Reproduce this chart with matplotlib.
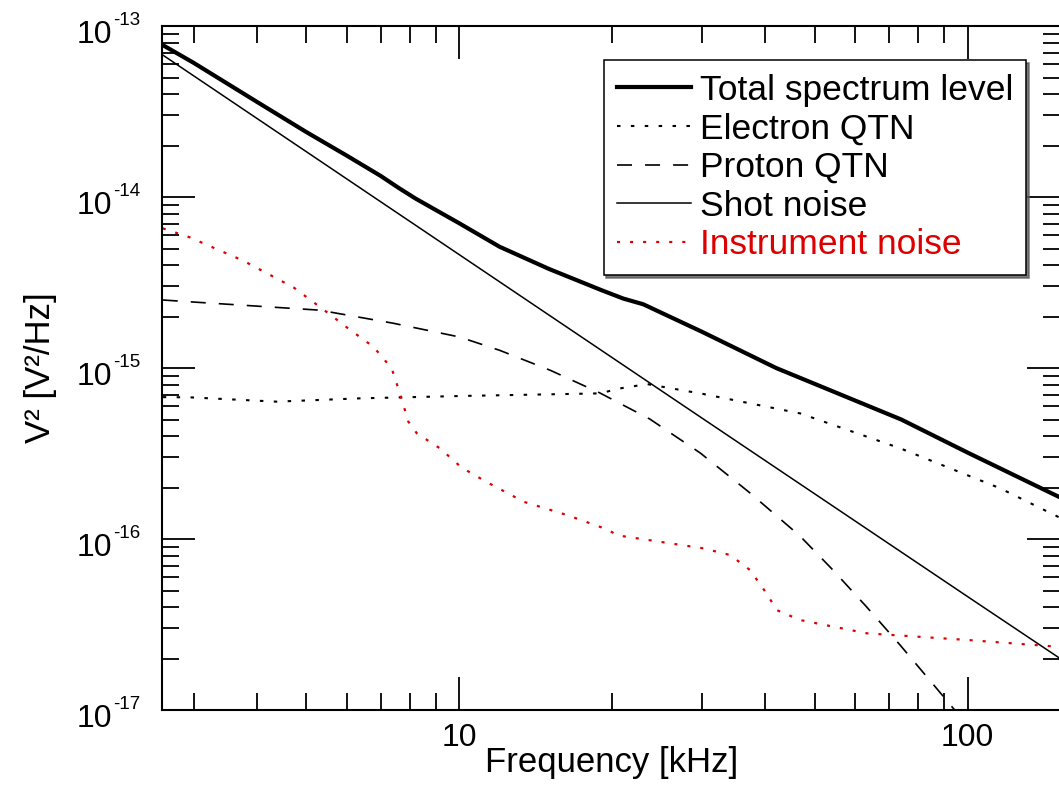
import matplotlib

matplotlib.use("Agg")
import matplotlib.pyplot as plt
from matplotlib.ticker import FixedLocator, FixedFormatter, LogLocator, NullFormatter

# values (frequency in kHz, spectrum in V^2/Hz)
total_f = [2.61, 3, 4, 5, 6, 7, 7.6, 8.2, 10, 12, 15, 19, 21, 23, 30, 42, 74, 100, 152]
total_v = [7.74e-14, 6.1e-14, 3.6e-14, 2.4e-14, 1.75e-14, 1.33e-14, 1.13e-14, 9.8e-15, 7.02e-15,
           5.12e-15, 3.8e-15, 2.86e-15, 2.55e-15, 2.36e-15, 1.63e-15, 1.0e-15,
           5.0e-16, 3.2e-16, 1.75e-16]

electron_f = [2.61, 2.95, 4.37, 6.38, 10, 18.9, 20.7, 23.4, 30.2, 46.8, 73.7, 115.8, 152]
electron_v = [6.76e-16, 6.74e-16, 6.36e-16, 6.65e-16, 6.86e-16, 7.11e-16, 7.6e-16, 8.06e-16,
              7.05e-16, 5.43e-16, 3.39e-16, 1.98e-16, 1.33e-16]

proton_f = [2.61, 2.95, 5.31, 5.91, 7.4, 10, 12, 15.1, 18.9, 23.7, 29.8, 37.3, 46.8, 54.3,
            63.3, 73.6, 85.4, 96.5]
proton_v = [2.50e-15, 2.44e-15, 2.18e-15, 2.06e-15, 1.83e-15, 1.52e-15, 1.27e-15, 9.7e-16,
            7.15e-16, 5.03e-16, 3.18e-16, 1.86e-16, 1.04e-16, 6.59e-17, 4.0e-17, 2.4e-17,
            1.42e-17, 9.2e-18]

shot_f = [2.61, 10, 30, 100, 152]
shot_v = [6.77e-14, 4.6e-15, 5.1e-16, 4.6e-17, 2.0e-17]

instr_f = [2.61, 2.95, 3.76, 4.72, 5.48, 6.10, 6.78, 7.36, 7.64, 7.94, 8.25, 9.16, 10.1, 11.3,
           13.4, 16.3, 19.5, 20.5, 24.8, 30.2, 34.1, 37.3, 40.2, 42.1, 46.8, 63.3, 99.5, 152]
instr_v = [6.56e-15, 5.81e-15, 4.24e-15, 2.96e-15, 2.13e-15, 1.67e-15, 1.33e-15, 9.96e-16,
           7.11e-16, 4.85e-16, 4.15e-16, 3.39e-16, 2.62e-16, 2.16e-16, 1.65e-16, 1.38e-16,
           1.14e-16, 1.05e-16, 9.64e-17, 8.82e-17, 8.06e-17, 6.59e-17, 4.81e-17, 3.84e-17,
           3.36e-17, 2.81e-17, 2.57e-17, 2.34e-17]

labels = ["Total spectrum level", "Electron QTN", "Proton QTN", "Shot noise", "Instrument noise"]

x_major = [10, 100]
x_major_labels = ["10", "100"]
y_major = [1e-17, 1e-16, 1e-15, 1e-14, 1e-13]
y_exponents = ["-17", "-16", "-15", "-14", "-13"]

RED = "#dd0000"

plt.rcParams["font.family"] = ["Liberation Sans", "DejaVu Sans"]
plt.rcParams["lines.scale_dashes"] = False

fig = plt.figure(figsize=(10.59, 7.92), dpi=100)
ax = fig.add_axes([0.1533, 0.1035, 0.8481, 0.8636])

ax.plot(total_f, total_v, color="black", lw=3.0, label=labels[0])
ax.plot(electron_f, electron_v, color="black", lw=1.5, linestyle=(0, (2.5, 7.5)), label=labels[1])
ax.plot(proton_f, proton_v, color="black", lw=1.2, linestyle=(0, (10.8, 9.4)), label=labels[2])
ax.plot(shot_f, shot_v, color="black", lw=1.1, label=labels[3])
ax.plot(instr_f, instr_v, color=RED, lw=1.6, linestyle=(0, (2.2, 7.2)), label=labels[4])

ax.set_xscale("log")
ax.set_yscale("log")
ax.set_xlim(2.605, 152.2)
ax.set_ylim(1e-17, 1e-13)

ax.xaxis.set_major_locator(FixedLocator(x_major))
ax.xaxis.set_major_formatter(FixedFormatter(x_major_labels))
ax.xaxis.set_minor_locator(LogLocator(base=10, subs=range(2, 10), numticks=20))
ax.xaxis.set_minor_formatter(NullFormatter())
ax.yaxis.set_major_locator(FixedLocator(y_major))
ax.yaxis.set_major_formatter(NullFormatter())
ax.yaxis.set_minor_locator(LogLocator(base=10, subs=range(2, 10), numticks=20))
ax.yaxis.set_minor_formatter(NullFormatter())

ax.tick_params(which="both", direction="in", top=True, right=True, width=1.3, color="black")
ax.tick_params(which="major", length=23.5)
ax.tick_params(which="minor", length=12)
ax.tick_params(axis="x", which="major", labelsize=23, pad=9)
for side in ax.spines.values():
    side.set_linewidth(1.5)

# y tick labels as "10" with a small raised exponent
ytrans = ax.get_yaxis_transform()
for yv, ex in zip(y_major, y_exponents):
    ax.annotate("10", xy=(0, yv), xycoords=ytrans, xytext=(-36.2, -12.2),
                textcoords="offset points", ha="right", va="baseline", fontsize=23,
                annotation_clip=False)
    ax.annotate(ex, xy=(0, yv), xycoords=ytrans, xytext=(-35.5, 0.7),
                textcoords="offset points", ha="left", va="baseline", fontsize=13.5,
                annotation_clip=False)

ax.set_xlabel("Frequency [kHz]", fontsize=25, labelpad=-5)
ax.set_ylabel("V² [V²/Hz]", fontsize=25, labelpad=72)

leg = ax.legend(loc="upper right", bbox_to_anchor=(0.962, 0.950), borderaxespad=0,
                fontsize=25.5, frameon=True, fancybox=False, shadow={"color": "0.35", "alpha": 0.8},
                handlelength=2.1, handletextpad=0.23, labelspacing=0.16, borderpad=0.38)
leg.get_frame().set_edgecolor("black")
leg.get_frame().set_linewidth(1.1)
leg.get_frame().set_alpha(1.0)
leg.get_texts()[4].set_color(RED)

fig.savefig("out.png", dpi=100)
